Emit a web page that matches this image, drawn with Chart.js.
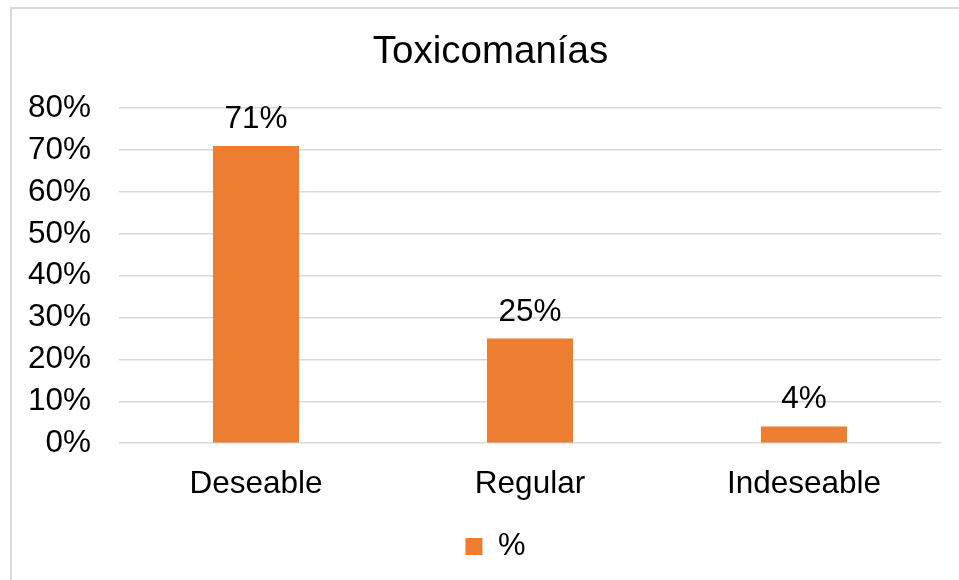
<!DOCTYPE html>
<html lang="es">
<head>
    <meta charset="UTF-8">
    <title>Toxicomanías</title>
    <style>
        body {
            margin: 0;
            background: #ffffff;
        }
        #chart {
            display: block;
        }
    </style>
</head>
<body>
<canvas id="chart" width="959" height="580"></canvas>

<script src="https://cdn.jsdelivr.net/npm/chart.js@4.4.1/dist/chart.umd.min.js"></script>
<script>
    const categories = ['Deseable', 'Regular', 'Indeseable'];
    const percentValues = [71, 25, 4];
    const seriesName = '%';
    const chartTitle = 'Toxicomanías';
    const yMax = 80;
    const yStep = 10;

    const orange = '#ED7D31';
    const gridGrey = '#D9D9D9';
    const fontFamily = '"Liberation Sans", Arial, sans-serif';

    // light frame along the top and left edge
    const framePlugin = {
        id: 'frame',
        beforeDraw(chart) {
            const ctx = chart.ctx;
            ctx.save();
            ctx.fillStyle = '#ffffff';
            ctx.fillRect(0, 0, chart.width, chart.height);
            ctx.strokeStyle = gridGrey;
            ctx.lineWidth = 2;
            ctx.beginPath();
            ctx.moveTo(11, chart.height);
            ctx.lineTo(11, 8);
            ctx.lineTo(chart.width, 8);
            ctx.stroke();
            ctx.restore();
        }
    };

    // title and legend sit a little right of the canvas centre
    const nudgePlugin = {
        id: 'nudge',
        afterLayout(chart) {
            const shift = (box, dx) => {
                if (!box) return;
                box.left += dx;
                box.right += dx;
            };
            shift(chart.titleBlock, 6);
            shift(chart.legend, 11);
        }
    };

    // value labels over each bar
    const barLabels = {
        id: 'barLabels',
        afterDatasetsDraw(chart) {
            const ctx = chart.ctx;
            ctx.save();
            ctx.font = '31.5px ' + fontFamily;
            ctx.fillStyle = '#000000';
            ctx.textAlign = 'center';
            ctx.textBaseline = 'alphabetic';
            chart.data.datasets.forEach((ds, i) => {
                chart.getDatasetMeta(i).data.forEach((bar, j) => {
                    ctx.fillText(ds.data[j] + '%', bar.x, bar.y - 18);
                });
            });
            ctx.restore();
        }
    };

    new Chart(document.getElementById('chart'), {
        type: 'bar',
        data: {
            labels: categories,
            datasets: [{
                label: seriesName,
                data: percentValues,
                backgroundColor: orange,
                borderWidth: 0,
                barPercentage: 0.314,
                categoryPercentage: 1
            }]
        },
        options: {
            responsive: false,
            animation: false,
            layout: {
                padding: { left: 28, right: 18, top: 0, bottom: 8 }
            },
            plugins: {
                title: {
                    display: true,
                    text: chartTitle,
                    color: '#000000',
                    font: { family: fontFamily, size: 38.5, weight: 'normal' },
                    padding: { top: 29, bottom: 33 }
                },
                legend: {
                    display: true,
                    position: 'bottom',
                    labels: {
                        color: '#000000',
                        font: { family: fontFamily, size: 31 },
                        boxWidth: 17,
                        boxHeight: 17,
                        padding: 6
                    }
                },
                tooltip: { enabled: false }
            },
            scales: {
                x: {
                    grid: { display: false, drawTicks: false },
                    border: { display: false },
                    ticks: {
                        color: '#000000',
                        font: { family: fontFamily, size: 31.5 },
                        padding: 22
                    }
                },
                y: {
                    min: 0,
                    max: yMax,
                    grid: { color: gridGrey, lineWidth: 1.5, drawTicks: false },
                    border: { display: false },
                    ticks: {
                        stepSize: yStep,
                        color: '#000000',
                        font: { family: fontFamily, size: 31.5 },
                        padding: 28,
                        callback: v => v + '%'
                    },
                    // the axis box only needs the labels plus one gap
                    afterFit(scale) {
                        scale.width = 91;
                    }
                }
            }
        },
        plugins: [framePlugin, nudgePlugin, barLabels]
    });
</script>
</body>
</html>
